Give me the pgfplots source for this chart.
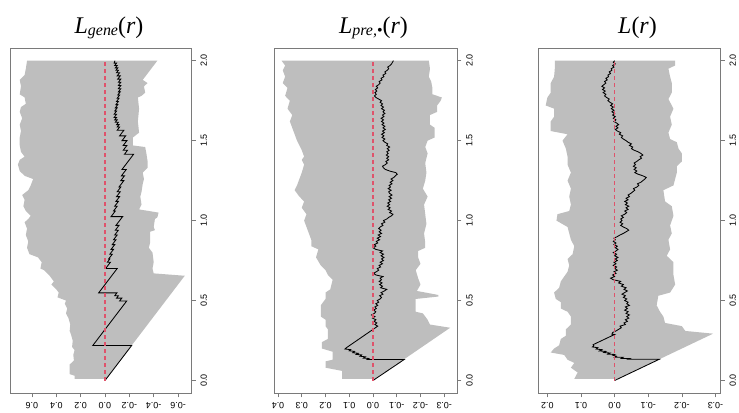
\documentclass[border=0pt]{standalone}
\usepackage{pgfplots}
\pgfplotsset{compat=1.18}
\usepackage{fontspec}
\setmainfont{Liberation Serif}
\newfontfamily\ticksf{Liberation Sans}
\definecolor{rgray}{HTML}{BEBEBE}
\definecolor{rred}{HTML}{DF536B}
\definecolor{rframe}{HTML}{7A7A7A}
\pgfplotsset{
  rpanel/.style={
    scale only axis, height=345.4bp,
    x dir=reverse, ymin=-0.08, ymax=2.08,
    axis line style={draw=rframe, line width=0.7bp},
    tick style={draw=rframe, line width=0.7bp},
    tick align=outside, major tick length=4bp,
    xtick pos=left, ytick pos=right,
    xticklabel shift=2bp, yticklabel shift=1.5bp,
    ytick={0,0.5,1,1.5,2}, yticklabels={0.0,0.5,1.0,1.5,2.0},
    xticklabel style={rotate=180, anchor=south, font=\ticksf\fontsize{9}{10}\selectfont},
    yticklabel style={rotate=90, anchor=north, font=\ticksf\fontsize{9}{10}\selectfont},
  },
  env/.style={fill=rgray, draw=none, forget plot},
  obs/.style={draw=black, line width=0.85bp, forget plot},
  theo/.style={draw=rred, line width=1.1bp, dash pattern=on 4bp off 3bp, forget plot},
}
\begin{document}
\begin{tikzpicture}
\useasboundingbox (0,0) rectangle (739bp,413bp);
% ---------------- Panel 1 ----------------
\begin{axis}[rpanel, at={(10bp,19.7bp)}, anchor=south west, width=181.7bp,
  xmin=-0.712, xmax=0.78,
  xtick={-0.6,-0.4,-0.2,0,0.2,0.4,0.6}, xticklabels={-0.6,-0.4,-0.2,0.0,0.2,0.4,0.6}]
\addplot[env] coordinates {
(0.25,0.01)(0.25,0.03)(0.29,0.04)(0.29,0.10)(0.255,0.125)(0.26,0.16)(0.25,0.19)(0.27,0.21)(0.265,0.25)(0.28,0.29)(0.29,0.31)(0.285,0.35)(0.30,0.39)(0.32,0.42)(0.31,0.45)(0.33,0.48)(0.32,0.50)(0.39,0.52)(0.38,0.55)(0.40,0.57)(0.44,0.60)(0.42,0.62)(0.46,0.66)(0.50,0.69)(0.53,0.70)(0.52,0.74)(0.55,0.77)(0.62,0.79)(0.64,0.83)(0.63,0.87)(0.65,0.91)(0.64,0.95)(0.66,0.99)(0.63,1.01)(0.61,1.03)(0.65,1.06)(0.67,1.09)(0.66,1.13)(0.68,1.16)(0.63,1.19)(0.61,1.22)(0.59,1.26)(0.66,1.28)(0.70,1.31)(0.715,1.35)(0.70,1.38)(0.66,1.40)(0.69,1.43)(0.70,1.47)(0.70,1.52)(0.69,1.56)(0.70,1.60)(0.68,1.64)(0.70,1.68)(0.69,1.71)(0.65,1.73)(0.66,1.77)(0.70,1.79)(0.69,1.84)(0.70,1.88)(0.66,1.91)(0.65,1.95)(0.64,2.0)
(-0.43,2.0)(-0.31,1.88)(-0.35,1.86)(-0.32,1.84)(-0.33,1.80)(-0.30,1.78)(-0.27,1.77)(-0.28,1.70)(-0.27,1.62)(-0.28,1.55)(-0.23,1.52)(-0.23,1.47)(-0.33,1.46)(-0.34,1.42)(-0.35,1.37)(-0.35,1.33)(-0.31,1.30)(-0.32,1.26)(-0.31,1.23)(-0.30,1.18)(-0.29,1.15)(-0.30,1.10)(-0.28,1.07)(-0.44,1.05)(-0.43,1.02)(-0.41,1.01)(-0.40,0.96)(-0.41,0.94)(-0.37,0.93)(-0.37,0.86)(-0.36,0.83)(-0.39,0.80)(-0.40,0.74)(-0.39,0.70)(-0.40,0.67)(-0.655,0.655)(-0.01,0.01)
};
\addplot[obs] coordinates {
(0,0)(-0.219,0.219)(0.10,0.219)(-0.178,0.497)(-0.12,0.497)(-0.138,0.515)(-0.095,0.515)(-0.11,0.53)(-0.08,0.53)(-0.098,0.548)(0.052,0.548)(-0.10,0.70)(-0.005,0.70)(-0.045,0.74)(-0.02,0.74)(-0.04,0.76)(-0.03,0.76)(-0.06,0.79)(-0.04,0.79)(-0.07,0.82)(-0.05,0.82)(-0.08,0.85)(-0.06,0.85)(-0.09,0.88)(-0.07,0.88)(-0.10,0.91)(-0.08,0.91)(-0.11,0.94)(-0.085,0.94)(-0.115,0.97)(-0.09,0.97)(-0.145,1.025)(-0.05,1.025)(-0.085,1.06)(-0.07,1.06)(-0.10,1.09)(-0.08,1.09)(-0.11,1.12)(-0.09,1.12)(-0.12,1.15)(-0.095,1.15)(-0.125,1.18)(-0.10,1.18)(-0.13,1.21)(-0.115,1.21)(-0.155,1.25)(-0.13,1.25)(-0.16,1.28)(-0.135,1.28)(-0.175,1.32)(-0.14,1.32)(-0.235,1.415)(-0.16,1.415)(-0.185,1.44)(-0.15,1.44)(-0.18,1.47)(-0.15,1.47)(-0.18,1.50)(-0.14,1.50)(-0.17,1.53)(-0.12,1.53)(-0.155,1.565)(-0.100,1.565)(-0.120,1.585)(-0.100,1.585)(-0.115,1.60)(-0.095,1.60)(-0.110,1.615)(-0.085,1.615)(-0.100,1.63)(-0.080,1.63)(-0.095,1.645)(-0.075,1.645)(-0.095,1.665)(-0.075,1.665)(-0.095,1.685)(-0.080,1.685)(-0.100,1.705)(-0.085,1.705)(-0.105,1.725)(-0.090,1.725)(-0.110,1.745)(-0.095,1.745)(-0.115,1.765)(-0.100,1.765)(-0.120,1.785)(-0.105,1.785)(-0.125,1.805)(-0.110,1.805)(-0.130,1.825)(-0.110,1.825)(-0.130,1.845)(-0.110,1.845)(-0.130,1.865)(-0.110,1.865)(-0.130,1.885)(-0.105,1.885)(-0.125,1.905)(-0.100,1.905)(-0.120,1.925)(-0.095,1.925)(-0.110,1.94)(-0.090,1.94)(-0.105,1.955)(-0.085,1.955)(-0.100,1.97)(-0.080,1.97)(-0.095,1.985)(-0.075,1.985)(-0.082,2.0)
};
\addplot[theo] coordinates {(0,0)(0,2)};
\end{axis}
% ---------------- Panel 2 ----------------
\begin{axis}[rpanel, at={(274.3bp,19.7bp)}, anchor=south west, width=183bp,
  xmin=-0.355, xmax=0.4156,
  xtick={-0.3,-0.2,-0.1,0,0.1,0.2,0.3,0.4}, xticklabels={-0.3,-0.2,-0.1,0.0,0.1,0.2,0.3,0.4}]
\addplot[env] coordinates {
(0.13,0.01)(0.13,0.06)(0.20,0.08)(0.20,0.12)(0.17,0.13)(0.17,0.18)(0.215,0.20)(0.215,0.24)(0.19,0.26)(0.19,0.32)(0.20,0.34)(0.20,0.38)(0.22,0.40)(0.22,0.47)(0.20,0.51)(0.20,0.55)(0.18,0.57)(0.17,0.63)(0.19,0.66)(0.20,0.69)(0.22,0.72)(0.24,0.77)(0.23,0.82)(0.26,0.84)(0.26,0.88)(0.27,0.92)(0.28,0.96)(0.29,1.00)(0.28,1.04)(0.30,1.08)(0.29,1.12)(0.31,1.15)(0.33,1.19)(0.32,1.22)(0.31,1.26)(0.30,1.30)(0.29,1.35)(0.30,1.38)(0.29,1.40)(0.30,1.44)(0.31,1.47)(0.32,1.50)(0.33,1.54)(0.34,1.58)(0.35,1.62)(0.34,1.66)(0.36,1.70)(0.35,1.75)(0.37,1.78)(0.36,1.83)(0.38,1.86)(0.37,1.90)(0.38,1.94)(0.37,1.97)(0.385,2.0)
(-0.235,2.0)(-0.24,1.95)(-0.235,1.90)(-0.245,1.87)(-0.25,1.83)(-0.25,1.79)(-0.29,1.77)(-0.285,1.75)(-0.27,1.72)(-0.27,1.68)(-0.24,1.66)(-0.24,1.60)(-0.26,1.58)(-0.26,1.52)(-0.23,1.50)(-0.22,1.46)(-0.23,1.42)(-0.22,1.36)(-0.225,1.30)(-0.22,1.25)(-0.21,1.20)(-0.23,1.15)(-0.215,1.10)(-0.22,1.04)(-0.225,0.98)(-0.215,0.92)(-0.22,0.86)(-0.22,0.83)(-0.19,0.81)(-0.19,0.77)(-0.20,0.73)(-0.18,0.69)(-0.19,0.64)(-0.20,0.60)(-0.185,0.56)(-0.275,0.535)(-0.275,0.525)(-0.18,0.51)(-0.18,0.43)(-0.21,0.42)(-0.23,0.38)(-0.24,0.35)(-0.325,0.33)(-0.01,0.01)
};
\addplot[obs] coordinates {
(0,0)(-0.131,0.131)(0.025,0.131)(0.018,0.138)(0.04,0.14)(0.032,0.148)(0.055,0.152)(0.048,0.16)(0.07,0.163)(0.062,0.17)(0.085,0.174)(0.078,0.182)(0.10,0.186)(0.094,0.193)(0.118,0.197)(0.112,0.205)(-0.02,0.34)
(-0.008,0.35)(-0.016,0.36)(-0.004,0.37)(-0.012,0.38)(0.002,0.39)(-0.008,0.40)(0.006,0.41)(-0.006,0.42)(-0.012,0.43)(-0.002,0.44)(-0.014,0.45)(-0.008,0.46)(-0.020,0.47)(-0.012,0.48)(-0.024,0.49)(-0.018,0.50)(-0.030,0.51)(-0.036,0.52)(-0.028,0.53)(-0.042,0.54)(-0.034,0.55)(-0.048,0.56)(-0.058,0.57)(-0.032,0.58)(-0.040,0.59)(-0.028,0.60)(-0.038,0.61)(-0.026,0.62)(-0.036,0.63)(-0.030,0.64)(-0.042,0.65)(-0.012,0.66)(-0.002,0.67)(-0.014,0.68)(-0.024,0.69)(-0.018,0.70)(-0.032,0.71)(-0.026,0.72)(-0.040,0.73)(-0.030,0.74)(-0.044,0.75)(-0.036,0.76)(-0.046,0.77)(-0.034,0.78)(-0.044,0.79)(-0.030,0.80)(-0.040,0.81)(-0.012,0.82)(0.000,0.83)(-0.012,0.84)(-0.006,0.85)(-0.020,0.86)(-0.014,0.87)(-0.028,0.88)(-0.018,0.89)(-0.032,0.90)(-0.022,0.91)(-0.036,0.92)(-0.026,0.93)(-0.034,0.94)(-0.024,0.95)(-0.030,0.96)(-0.042,0.97)(-0.036,0.98)(-0.050,0.99)(-0.044,1.00)(-0.058,1.01)(-0.066,1.02)(-0.078,1.03)(-0.084,1.04)(-0.070,1.05)(-0.078,1.06)(-0.064,1.07)(-0.072,1.08)(-0.060,1.09)(-0.070,1.10)(-0.062,1.11)(-0.074,1.12)(-0.066,1.13)(-0.078,1.14)(-0.068,1.15)(-0.080,1.16)(-0.070,1.17)(-0.066,1.18)(-0.076,1.19)(-0.064,1.20)(-0.074,1.21)(-0.068,1.22)(-0.080,1.23)(-0.072,1.24)(-0.084,1.25)(-0.076,1.26)(-0.088,1.27)(-0.094,1.28)(-0.102,1.29)(-0.096,1.30)(-0.070,1.31)(-0.052,1.32)(-0.044,1.33)(-0.040,1.34)(-0.052,1.35)(-0.060,1.36)(-0.054,1.37)(-0.066,1.38)(-0.058,1.39)(-0.066,1.40)(-0.056,1.41)(-0.064,1.42)(-0.058,1.43)(-0.068,1.44)(-0.060,1.45)(-0.070,1.46)(-0.058,1.47)(-0.062,1.48)(-0.050,1.49)(-0.042,1.50)(-0.050,1.51)(-0.038,1.52)(-0.046,1.53)(-0.036,1.54)(-0.048,1.55)(-0.040,1.56)(-0.052,1.57)(-0.042,1.58)(-0.050,1.59)(-0.038,1.60)(-0.046,1.61)(-0.036,1.62)(-0.044,1.63)(-0.034,1.64)(-0.046,1.65)(-0.040,1.66)(-0.050,1.67)(-0.042,1.68)(-0.048,1.69)(-0.036,1.70)(-0.044,1.71)(-0.034,1.72)(-0.040,1.73)(-0.030,1.74)(-0.036,1.75)(-0.024,1.76)(-0.012,1.77)(-0.006,1.78)(-0.014,1.79)(-0.008,1.80)(-0.016,1.81)(-0.010,1.82)(-0.020,1.83)(-0.014,1.84)(-0.024,1.85)(-0.030,1.86)(-0.026,1.87)(-0.038,1.88)(-0.034,1.89)(-0.046,1.90)(-0.042,1.91)(-0.054,1.92)(-0.050,1.93)(-0.060,1.94)(-0.066,1.95)(-0.062,1.96)(-0.072,1.97)(-0.078,1.98)(-0.082,1.99)(-0.086,2.00)
};
\addplot[theo] coordinates {(0,0)(0,2)};
\end{axis}
% ---------------- Panel 3 ----------------
\begin{axis}[rpanel, at={(538.3bp,19.7bp)}, anchor=south west, width=182.4bp,
  xmin=-0.3155, xmax=0.227,
  xtick={-0.3,-0.2,-0.1,0,0.1,0.2}, xticklabels={-0.3,-0.2,-0.1,0.0,0.1,0.2}]
\addplot[env] coordinates {
(0.12,0.01)(0.11,0.05)(0.13,0.08)(0.12,0.11)(0.14,0.13)(0.15,0.16)(0.19,0.175)(0.18,0.20)(0.165,0.22)(0.16,0.26)(0.145,0.28)(0.145,0.32)(0.13,0.35)(0.13,0.40)(0.14,0.43)(0.16,0.45)(0.16,0.49)(0.175,0.51)(0.18,0.55)(0.165,0.58)(0.16,0.62)(0.15,0.65)(0.14,0.68)(0.135,0.72)(0.14,0.76)(0.125,0.79)(0.12,0.84)(0.13,0.88)(0.135,0.92)(0.14,0.96)(0.173,1.00)(0.17,1.04)(0.135,1.06)(0.13,1.10)(0.135,1.15)(0.13,1.20)(0.14,1.25)(0.13,1.30)(0.14,1.35)(0.14,1.40)(0.145,1.45)(0.155,1.50)(0.14,1.54)(0.19,1.56)(0.19,1.62)(0.18,1.65)(0.18,1.70)(0.205,1.72)(0.20,1.77)(0.19,1.80)(0.19,1.86)(0.18,1.90)(0.178,1.95)(0.178,2.0)
(-0.18,2.0)(-0.18,1.97)(-0.16,1.95)(-0.165,1.90)(-0.17,1.86)(-0.17,1.80)(-0.16,1.76)(-0.175,1.70)(-0.165,1.65)(-0.17,1.60)(-0.16,1.55)(-0.165,1.51)(-0.185,1.49)(-0.19,1.45)(-0.20,1.42)(-0.20,1.37)(-0.185,1.34)(-0.185,1.30)(-0.18,1.26)(-0.175,1.22)(-0.145,1.19)(-0.15,1.12)(-0.17,1.09)(-0.175,1.03)(-0.165,0.97)(-0.17,0.92)(-0.16,0.88)(-0.165,0.82)(-0.155,0.78)(-0.175,0.74)(-0.175,0.66)(-0.18,0.60)(-0.165,0.55)(-0.13,0.53)(-0.125,0.47)(-0.135,0.43)(-0.145,0.40)(-0.15,0.36)(-0.20,0.34)(-0.21,0.31)(-0.293,0.293)(-0.01,0.01)
};
\addplot[obs] coordinates {
(0,0)(-0.133,0.133)(-0.04,0.133)(-0.045,0.138)(-0.02,0.138)(-0.025,0.145)(0.0,0.145)(-0.005,0.152)(0.005,0.158)(0.0,0.163)(0.02,0.165)(0.014,0.172)(0.032,0.175)(0.026,0.182)(0.045,0.185)(0.038,0.193)(0.055,0.197)(0.05,0.205)(0.066,0.21)(0.062,0.218)(0.064,0.224)(0.0,0.288)(0.008,0.29)
(0.006,0.30)(-0.004,0.31)(-0.012,0.32)(-0.020,0.33)(-0.016,0.34)(-0.032,0.35)(-0.028,0.36)(-0.038,0.37)(-0.032,0.38)(-0.042,0.39)(-0.036,0.40)(-0.044,0.41)(-0.034,0.42)(-0.040,0.43)(-0.030,0.44)(-0.038,0.45)(-0.032,0.46)(-0.044,0.47)(-0.036,0.48)(-0.040,0.49)(-0.030,0.50)(-0.036,0.51)(-0.026,0.52)(-0.032,0.53)(-0.022,0.54)(-0.030,0.55)(-0.038,0.56)(-0.028,0.57)(-0.034,0.58)(-0.020,0.59)(-0.026,0.60)(-0.012,0.61)(-0.018,0.62)(0.004,0.63)(0.012,0.64)(0.000,0.65)(0.006,0.66)(-0.004,0.67)(0.002,0.68)(-0.008,0.69)(0.000,0.70)(-0.006,0.71)(0.004,0.72)(-0.004,0.73)(0.002,0.74)(-0.008,0.75)(-0.002,0.76)(-0.010,0.77)(0.000,0.78)(-0.006,0.79)(0.004,0.80)(-0.004,0.81)(-0.010,0.82)(-0.002,0.83)(-0.008,0.84)(0.002,0.85)(-0.004,0.86)(0.004,0.87)(-0.002,0.88)(0.002,0.89)(-0.008,0.90)(-0.016,0.91)(-0.026,0.92)(-0.034,0.93)(-0.042,0.94)(-0.036,0.95)(-0.026,0.96)(-0.018,0.97)(-0.024,0.98)(-0.016,0.99)(-0.022,1.00)(-0.018,1.01)(-0.026,1.02)(-0.020,1.03)(-0.030,1.04)(-0.036,1.05)(-0.030,1.06)(-0.040,1.07)(-0.034,1.08)(-0.042,1.09)(-0.032,1.10)(-0.038,1.11)(-0.030,1.12)(-0.040,1.13)(-0.034,1.14)(-0.044,1.15)(-0.040,1.16)(-0.048,1.17)(-0.054,1.18)(-0.060,1.19)(-0.056,1.20)(-0.066,1.21)(-0.072,1.22)(-0.068,1.23)(-0.078,1.24)(-0.084,1.25)(-0.090,1.26)(-0.094,1.27)(-0.084,1.28)(-0.070,1.29)(-0.060,1.30)(-0.066,1.31)(-0.058,1.32)(-0.064,1.33)(-0.056,1.34)(-0.062,1.35)(-0.058,1.36)(-0.066,1.37)(-0.072,1.38)(-0.080,1.39)(-0.076,1.40)(-0.084,1.41)(-0.078,1.42)(-0.070,1.43)(-0.058,1.44)(-0.050,1.45)(-0.054,1.46)(-0.044,1.47)(-0.050,1.48)(-0.040,1.49)(-0.034,1.50)(-0.026,1.51)(-0.020,1.52)(-0.024,1.53)(-0.014,1.54)(-0.018,1.55)(-0.008,1.56)(-0.002,1.57)(-0.010,1.58)(-0.004,1.59)(-0.012,1.60)(-0.006,1.61)(0.002,1.62)(-0.004,1.63)(0.004,1.64)(-0.002,1.65)(0.006,1.66)(0.000,1.67)(0.008,1.68)(0.002,1.69)(0.010,1.70)(0.004,1.71)(0.012,1.72)(0.006,1.73)(0.014,1.74)(0.020,1.75)(0.016,1.76)(0.024,1.77)(0.030,1.78)(0.026,1.79)(0.034,1.80)(0.028,1.81)(0.036,1.82)(0.030,1.83)(0.038,1.84)(0.032,1.85)(0.026,1.86)(0.030,1.87)(0.022,1.88)(0.026,1.89)(0.018,1.90)(0.020,1.91)(0.012,1.92)(0.016,1.93)(0.008,1.94)(0.010,1.95)(0.002,1.96)(0.006,1.97)(-0.002,1.98)(0.004,1.99)(0.000,2.00)
};
\addplot[theo] coordinates {(0,0)(0,2)};
\end{axis}
% ---------------- Titles ----------------
\node[anchor=base, inner sep=0pt] at (109bp,379.7bp) {\fontsize{24}{28}\selectfont\textit{L}\raisebox{-1.8bp}{\fontsize{16}{19}\selectfont\textit{gene}}(\textit{r})};
\node[anchor=base, inner sep=0pt] at (373.5bp,379.7bp) {\fontsize{24}{28}\selectfont\textit{L}\raisebox{-1.8bp}{\fontsize{16}{19}\selectfont\textit{pre,}\textbullet}(\textit{r})};
\node[anchor=base, inner sep=0pt] at (637.5bp,379.7bp) {\fontsize{24}{28}\selectfont\textit{L}(\textit{r})};
\end{tikzpicture}
\end{document}
